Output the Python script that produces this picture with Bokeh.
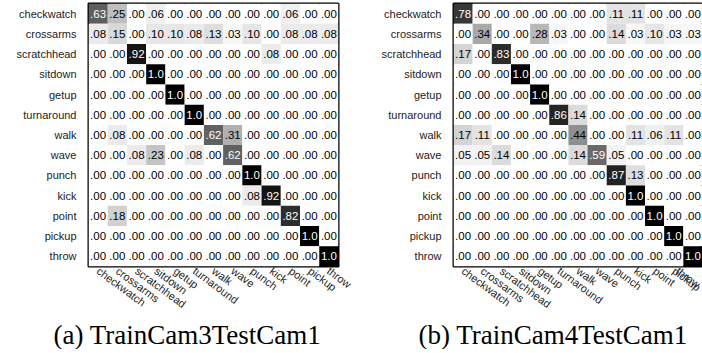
from bokeh.plotting import figure
from bokeh.layouts import row
from bokeh.models import ColumnDataSource, FactorRange, Title
from bokeh.core.properties import value
from bokeh.embed import file_html
from bokeh.resources import INLINE

actions = ["checkwatch", "crossarms", "scratchhead", "sitdown", "getup", "turnaround",
           "walk", "wave", "punch", "kick", "point", "pickup", "throw"]

cam3_matrix = [
    [.63, .25, .00, .06, .00, .00, .00, .00, .00, .00, .06, .00, .00],
    [.08, .15, .00, .10, .10, .08, .13, .03, .10, .00, .08, .08, .08],
    [.00, .00, .92, .00, .00, .00, .00, .00, .00, .08, .00, .00, .00],
    [.00, .00, .00, 1.0, .00, .00, .00, .00, .00, .00, .00, .00, .00],
    [.00, .00, .00, .00, 1.0, .00, .00, .00, .00, .00, .00, .00, .00],
    [.00, .00, .00, .00, .00, 1.0, .00, .00, .00, .00, .00, .00, .00],
    [.00, .08, .00, .00, .00, .00, .62, .31, .00, .00, .00, .00, .00],
    [.00, .00, .08, .23, .00, .08, .00, .62, .00, .00, .00, .00, .00],
    [.00, .00, .00, .00, .00, .00, .00, .00, 1.0, .00, .00, .00, .00],
    [.00, .00, .00, .00, .00, .00, .00, .00, .08, .92, .00, .00, .00],
    [.00, .18, .00, .00, .00, .00, .00, .00, .00, .00, .82, .00, .00],
    [.00, .00, .00, .00, .00, .00, .00, .00, .00, .00, .00, 1.0, .00],
    [.00, .00, .00, .00, .00, .00, .00, .00, .00, .00, .00, .00, 1.0],
]

cam4_matrix = [
    [.78, .00, .00, .00, .00, .00, .00, .00, .11, .11, .00, .00, .00],
    [.00, .34, .00, .00, .28, .03, .00, .00, .14, .03, .10, .03, .03],
    [.17, .00, .83, .00, .00, .00, .00, .00, .00, .00, .00, .00, .00],
    [.00, .00, .00, 1.0, .00, .00, .00, .00, .00, .00, .00, .00, .00],
    [.00, .00, .00, .00, 1.0, .00, .00, .00, .00, .00, .00, .00, .00],
    [.00, .00, .00, .00, .00, .86, .14, .00, .00, .00, .00, .00, .00],
    [.17, .11, .00, .00, .00, .00, .44, .00, .00, .11, .06, .11, .00],
    [.05, .05, .14, .00, .00, .00, .14, .59, .05, .00, .00, .00, .00],
    [.00, .00, .00, .00, .00, .00, .00, .00, .87, .13, .00, .00, .00],
    [.00, .00, .00, .00, .00, .00, .00, .00, .00, 1.0, .00, .00, .00],
    [.00, .00, .00, .00, .00, .00, .00, .00, .00, .00, 1.0, .00, .00],
    [.00, .00, .00, .00, .00, .00, .00, .00, .00, .00, .00, 1.0, .00],
    [.00, .00, .00, .00, .00, .00, .00, .00, .00, .00, .00, .00, 1.0],
]

captions = ["(a) TrainCam3TestCam1", "(b) TrainCam4TestCam1"]


def fmt(v):
    if v >= 0.995:
        return "1.0"
    return ".%02d" % int(round(v * 100))


def gray(v):
    g = int(round((1.0 - v) * 255))
    return "#%02x%02x%02x" % (g, g, g)


def make_matrix(mat, caption, left_border, frame_w, right_border):
    xs, ys, vals, cols, texts, tcols = [], [], [], [], [], []
    for i, r in enumerate(actions):
        for j, c in enumerate(actions):
            v = mat[i][j]
            xs.append(c)
            ys.append(r)
            vals.append(v)
            cols.append(gray(v))
            texts.append(fmt(v))
            tcols.append("white" if v > 0.5 else "black")
    src = ColumnDataSource(dict(x=xs, y=ys, v=vals, c=cols, t=texts, tc=tcols))
    p = figure(x_range=FactorRange(*actions), y_range=FactorRange(*actions[::-1]),
               frame_width=frame_w, frame_height=263,
               min_border_left=left_border, min_border_right=right_border,
               min_border_top=3, min_border_bottom=0,
               output_backend="svg", toolbar_location=None, tools="")
    p.rect(x="x", y="y", width=1, height=1, source=src, fill_color="c", line_color=None)
    p.text(x="x", y="y", text="t", source=src, text_color="tc",
           text_font=value("Liberation Sans"), text_font_size="11.5px",
           text_align="center", text_baseline="middle")
    p.grid.visible = False
    p.outline_line_color = "black"
    p.outline_line_width = 2
    p.background_fill_color = "white"
    for ax in (p.xaxis[0], p.yaxis[0]):
        ax.axis_line_color = None
        ax.major_tick_line_color = None
        ax.minor_tick_line_color = None
        ax.major_tick_out = 0
        ax.major_tick_in = 0
        ax.major_label_text_font = "Liberation Sans"
        ax.major_label_text_font_size = "11px"
        ax.major_label_text_color = "#222222"
    p.yaxis.major_label_standoff = 12
    p.xaxis.major_label_standoff = 3
    p.xaxis.major_label_orientation = -0.64
    p.add_layout(Title(text=caption, text_font="'Liberation Serif', 'Times New Roman', serif",
                       text_font_style="normal",
                       text_font_size="27px", text_color="black", align="left",
                       offset=-35, standoff=0), "below")
    return p


p1 = make_matrix(cam3_matrix, captions[0], 88, 250, 15)
p2 = make_matrix(cam4_matrix, captions[1], 100, 249, 0)
p = row(p1, p2)

open("out.html", "w").write(file_html(p, INLINE))
